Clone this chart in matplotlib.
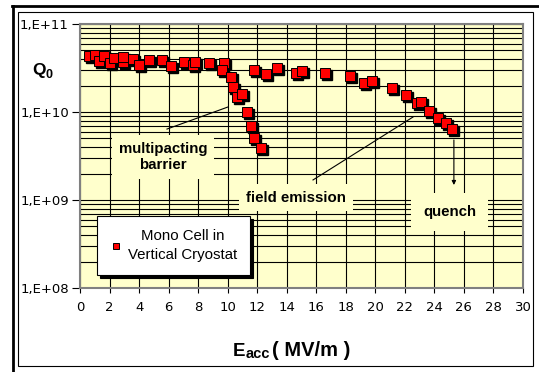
import numpy as np
import matplotlib.pyplot as plt
import matplotlib.transforms as mtransforms
from matplotlib.lines import Line2D
from matplotlib.patches import Rectangle
from matplotlib.ticker import FixedLocator, FixedFormatter, LogLocator, NullFormatter

# E_acc (MV/m) and Q0
e_acc = [0.64, 1.02, 1.32, 1.62, 2.03, 2.30, 2.90, 2.91, 3.62, 3.99,
         4.64, 5.55, 6.13, 7.01, 7.68, 7.82, 8.75, 9.78, 9.59, 10.22,
         10.39, 10.63, 10.97, 11.34, 11.58, 11.78, 12.29,
         11.76, 12.61, 13.37, 14.64, 15.00, 16.61, 18.31, 19.26, 19.75,
         21.10, 22.11, 22.80, 23.11, 23.65, 24.26, 24.77, 25.17]
q0 = [4.28e10, 4.39e10, 3.80e10, 4.28e10, 3.65e10, 4.16e10, 3.70e10, 4.19e10, 4.00e10, 3.40e10,
      3.90e10, 3.90e10, 3.33e10, 3.70e10, 3.42e10, 3.73e10, 3.58e10, 3.58e10, 3.04e10, 2.50e10,
      1.90e10, 1.48e10, 1.59e10, 1.00e10, 6.93e9, 5.02e9, 3.90e9,
      3.04e10, 2.70e10, 3.14e10, 2.80e10, 2.94e10, 2.80e10, 2.56e10, 2.12e10, 2.25e10,
      1.87e10, 1.57e10, 1.27e10, 1.31e10, 1.03e10, 8.61e9, 7.45e9, 6.36e9]

xticks = list(range(0, 31, 2))
yticks = [1e8, 1e9, 1e10, 1e11]
ytick_labels = ["1,E+08", "1,E+09", "1,E+10", "1,E+11"]
series_label = "Mono Cell in\nVertical Cryostat"

W, H = 539, 372
def fx(px):
    return px / W
def fy(py):
    return 1 - py / H

bg = "#FFFFCC"
bold = dict(family="Liberation Sans", weight="bold")

fig = plt.figure(figsize=(W / 100, H / 100), dpi=100)
ax = fig.add_axes([fx(80), fy(288), fx(523) - fx(80), fy(24) - fy(288)])
ax.set_facecolor(bg)
ax.set_yscale("log")
ax.set_xlim(0, 30)
ax.set_ylim(1e8, 1e11)

ax.xaxis.set_major_locator(FixedLocator(xticks))
ax.yaxis.set_major_locator(FixedLocator(yticks))
ax.yaxis.set_major_formatter(FixedFormatter(ytick_labels))
ax.yaxis.set_minor_locator(LogLocator(base=10, subs=np.arange(2, 10)))
ax.yaxis.set_minor_formatter(NullFormatter())

ax.set_axisbelow(True)
ax.grid(True, which="major", axis="both", color="black", lw=0.8)
ax.grid(True, which="minor", axis="y", color="black", lw=0.8)

ax.tick_params(axis="x", which="major", direction="out", length=3.5, width=0.8,
               pad=6, labelsize=9.5, colors="black")
ax.tick_params(axis="y", which="major", direction="out", length=6, width=0.8,
               pad=2, labelsize=9.5, colors="black")
ax.tick_params(axis="y", which="minor", length=0)
for s in ax.spines.values():
    s.set_color("#808080")
    s.set_linewidth(1.5)

# black drop shadow behind each marker
shadow_tr = mtransforms.offset_copy(ax.transData, fig=fig, x=2, y=-2, units="dots")
ax.plot(e_acc, q0, ls="none", marker="s", ms=7, color="black",
        transform=shadow_tr, zorder=3)
pts, = ax.plot(e_acc, q0, ls="none", marker="s", ms=7, mfc="#FF0000",
               mec="black", mew=0.7, zorder=4, label=series_label)

# annotations with background boxes hiding the grid
box = dict(boxstyle="square,pad=0.45", fc=bg, ec="none")
ax.text(5.62, 3.08e9, "multipacting\nbarrier", ha="center", va="center",
        fontsize=10.8, linespacing=1.25, bbox=box, zorder=2.5, **bold)
ax.plot([5.89, 10.02], [6.4e9, 1.14e10], color="black", lw=0.8, zorder=2.6)

ax.text(14.62, 1.067e9, "field emission", ha="center", va="center",
        fontsize=10.8, bbox=box, zorder=2.5, **bold)
ax.plot([15.78, 22.55], [1.69e9, 8.77e9], color="black", lw=0.8, zorder=2.6)

ax.text(25.05, 7.31e8, "quench", ha="center", va="center",
        fontsize=10.8, bbox=dict(boxstyle="square,pad=0.8", fc=bg, ec="none"),
        zorder=2.5, **bold)
ax.annotate("", xy=(25.32, 1.48e9), xytext=(25.32, 4.81e9),
            arrowprops=dict(arrowstyle="-|>", color="black", lw=0.8,
                            mutation_scale=6, shrinkA=0, shrinkB=0), zorder=2.6)

leg = ax.legend(handles=[pts], loc="lower left",
                bbox_to_anchor=(fx(97), fy(275)), bbox_transform=fig.transFigure,
                borderaxespad=0, fancybox=False, framealpha=1, edgecolor="black",
                facecolor="white", shadow={"color": "black", "alpha": 1},
                prop=dict(family="Liberation Sans", size=10.8),
                handlelength=0.8, handletextpad=0.4, borderpad=0.85)
leg.get_frame().set_linewidth(0.8)
leg.legend_handles[0].set_markersize(5)
for t in leg.get_texts():
    t.set_multialignment("center")
    t.set_linespacing(1.5)

# axis titles
fig.text(fx(32), fy(75), "Q", fontsize=12.5, va="baseline", ha="left", **bold)
fig.text(fx(45), fy(78), "0", fontsize=9, va="baseline", ha="left", **bold)

fig.text(fx(233), fy(356), "E", fontsize=13.5, va="baseline", ha="left", **bold)
fig.text(fx(246), fy(358), "acc", fontsize=10.5, va="baseline", ha="left", **bold)
fig.text(fx(272), fy(356), "( MV/m )", fontsize=14.5, va="baseline", ha="left", **bold)

# outer frames
fig.add_artist(Line2D([fx(12), fx(539)], [fy(5.5), fy(5.5)], color="black", lw=2,
                      transform=fig.transFigure))
fig.add_artist(Line2D([fx(13), fx(13)], [fy(5.5), fy(372)], color="black", lw=2,
                      transform=fig.transFigure))
fig.add_artist(Rectangle((fx(18), fy(366)), fx(533) - fx(18), fy(12) - fy(366),
                         fill=False, ec="black", lw=0.8, transform=fig.transFigure))

fig.savefig("out.png", dpi=100)
